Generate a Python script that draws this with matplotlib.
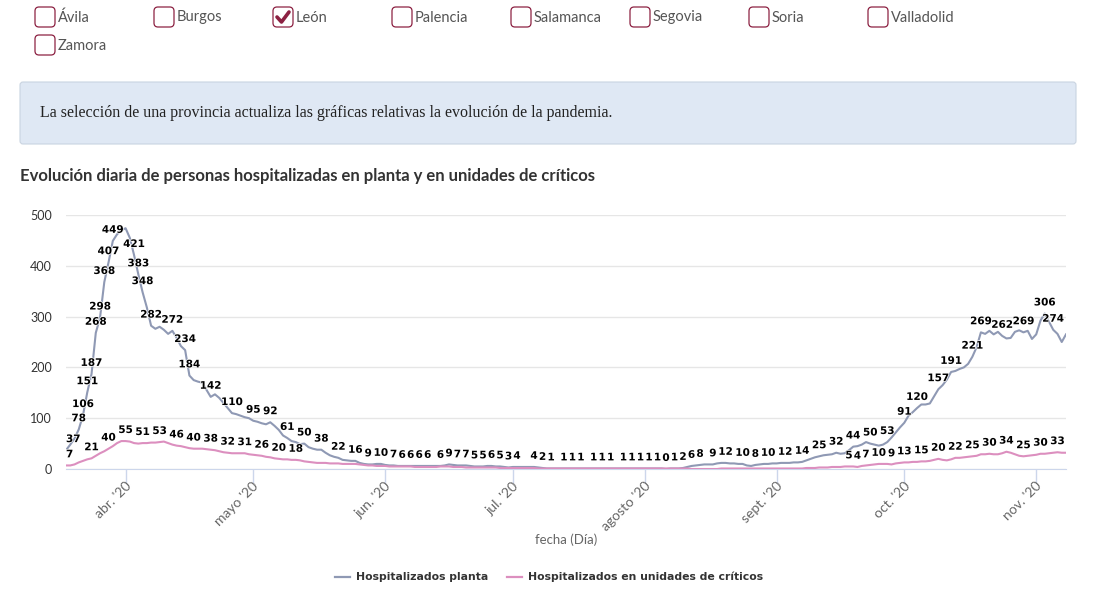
import datetime as dt
import matplotlib.pyplot as plt
import matplotlib.patheffects as pe
from matplotlib.patches import FancyBboxPatch
from matplotlib.transforms import ScaledTranslation

# daily series, León, from 18 March 2020
inicio = dt.date(2020, 3, 18)

planta = [
    37, 48, 60, 78, 106, 151, 187, 268, 298, 368,
    407, 449, 462, 470, 474, 455, 421, 383, 348, 318,
    282, 276, 280, 274, 266, 272, 258, 242, 234, 184,
    175, 172, 170, 156, 142, 147, 140, 130, 120, 110,
    108, 105, 102, 100, 95, 93, 90, 88, 92, 85,
    77, 66, 61, 55, 53, 49, 50, 43, 40, 38,
    38, 32, 27, 24, 22, 18, 17, 16, 16, 12,
    10, 9, 9, 10, 10, 8, 7, 7, 6, 6,
    6, 6, 6, 6, 6, 6, 6, 6, 6, 7,
    9, 8, 7, 7, 7, 6, 5, 5, 5, 6,
    6, 5, 5, 4, 3, 4, 4, 4, 4, 4,
    4, 3, 2, 1, 1, 1, 1, 1, 1, 1,
    1, 1, 1, 1, 1, 1, 1, 1, 1, 1,
    1, 1, 1, 1, 1, 1, 1, 1, 1, 1,
    1, 0, 1, 1, 1, 2, 4, 6, 7, 8,
    9, 9, 9, 11, 12, 12, 11, 11, 10, 10,
    7, 6, 8, 9, 10, 10, 11, 11, 12, 12,
    12, 13, 13, 14, 17, 20, 23, 25, 27, 28,
    29, 32, 30, 31, 37, 44, 45, 48, 53, 50,
    48, 46, 48, 53, 62, 72, 82, 91, 105, 112,
    120, 127, 127, 129, 143, 157, 165, 176, 191, 193,
    197, 200, 207, 221, 240, 269, 266, 272, 265, 270,
    262, 257, 258, 270, 273, 269, 272, 256, 265, 292,
    306, 290, 274, 266, 250, 265,
]

criticos = [
    7, 7, 9, 13, 16, 19, 21, 26, 31, 35,
    40, 45, 51, 55, 55, 54, 51, 50, 51, 51,
    52, 52, 53, 54, 51, 48, 46, 45, 43, 41,
    40, 40, 40, 39, 38, 37, 35, 33, 32, 31,
    31, 31, 31, 29, 28, 27, 26, 24, 23, 21,
    20, 19, 19, 18, 18, 17, 15, 14, 13, 12,
    12, 12, 11, 11, 11, 10, 10, 10, 10, 9,
    8, 7, 7, 6, 6, 6, 5, 5, 5, 5,
    5, 5, 4, 4, 4, 4, 4, 4, 5, 5,
    5, 4, 4, 4, 3, 3, 3, 3, 3, 3,
    3, 3, 2, 2, 2, 2, 2, 2, 2, 2,
    2, 1, 1, 1, 1, 1, 1, 1, 1, 1,
    1, 1, 1, 1, 1, 1, 1, 1, 1, 1,
    1, 1, 1, 1, 1, 1, 1, 1, 1, 1,
    1, 1, 1, 1, 1, 1, 1, 0, 0, 0,
    0, 0, 0, 0, 1, 1, 1, 1, 1, 1,
    1, 1, 1, 1, 1, 1, 1, 1, 1, 1,
    1, 1, 1, 1, 2, 2, 2, 3, 3, 3,
    4, 4, 4, 5, 5, 5, 4, 6, 7, 8,
    9, 10, 10, 10, 9, 11, 12, 13, 13, 14,
    14, 15, 15, 16, 18, 20, 18, 17, 19, 22,
    22, 23, 24, 25, 26, 29, 29, 30, 29, 29,
    31, 34, 32, 29, 26, 25, 26, 27, 28, 30,
    30, 31, 32, 33, 32, 32,
]

# days whose data label is visible in the original chart
planta_etiquetas = [
    0, 3, 4, 5, 6, 7, 8, 9, 10, 11, 16, 17, 18, 20, 25, 28, 29, 34, 39,
    44, 48, 52, 56, 60, 64, 68, 71, 74, 77, 79, 81, 83, 85, 88, 90, 92,
    94, 96, 98, 100, 102, 104, 106, 110, 112, 114, 117, 119, 121, 124,
    126, 128, 131, 133, 135, 137, 139, 141, 143, 145, 147, 149, 152, 155,
    159, 162, 165, 169, 173, 177, 181, 185, 189, 193, 197, 200, 205, 208,
    213, 215, 220, 225, 230, 232,
]
criticos_etiquetas = [
    0, 6, 10, 14, 18, 22, 26, 30, 34, 38, 42, 46, 50, 54,
    184, 186, 188, 191, 194, 197, 201, 205, 209, 213, 217, 221, 225, 229, 233,
]

provincias = ["Ávila", "Burgos", "León", "Palencia", "Salamanca", "Segovia",
              "Soria", "Valladolid", "Zamora"]
seleccionada = "León"
meses = ["abr. '20", "mayo '20", "jun. '20", "jul. '20", "agosto '20",
         "sept. '20", "oct. '20", "nov. '20"]

fechas = [inicio + dt.timedelta(days=i) for i in range(len(planta))]

C_PLANTA = "#8f99b4"
C_CRIT = "#dc8fbf"
GRANATE = "#8c2142"
W, H = 1098, 591

fig = plt.figure(figsize=(W / 100, H / 100), dpi=100)
fig.patch.set_facecolor("white")

# page decoration in pixel coordinates
ui = fig.add_axes([0, 0, 1, 1])
ui.set_xlim(0, W)
ui.set_ylim(H, 0)
ui.axis("off")

for k, nombre in enumerate(provincias):
    fila, col = divmod(k, 8)
    bx = 35 + col * 119
    by = 7 + fila * 28
    ui.add_patch(FancyBboxPatch((bx, by), 20, 20,
                                boxstyle="round,pad=0,rounding_size=4",
                                fc="white", ec=GRANATE, lw=0.9))
    if nombre == seleccionada:
        ui.plot([bx + 4, bx + 8.5, bx + 16], [by + 10, by + 15, by + 5],
                color=GRANATE, lw=2.6, solid_capstyle="round")
    ui.text(bx + 23, by + 10.5, nombre, fontsize=10.5, family="Lato",
            color="#555555", va="center", ha="left")

ui.add_patch(FancyBboxPatch((20, 82), 1056, 62,
                            boxstyle="round,pad=0,rounding_size=3",
                            fc="#dfe8f4", ec="#c9d4e1", lw=0.8))
ui.text(40, 113, "La selección de una provincia actualiza las gráficas "
        "relativas la evolución de la pandemia.",
        fontsize=11.5, family="Liberation Serif", color="#222222",
        va="center", ha="left")

ui.text(20, 176, "Evolución diaria de personas hospitalizadas en planta y "
        "en unidades de críticos", fontsize=12, family="Lato",
        fontweight="bold", color="#333333", va="center", ha="left")

ui.text(566, 540, "fecha (Día)", family="Lato", fontsize=9.5,
        color="#666666", ha="center", va="center")

# legend
for x0, txt, c in ((335, "Hospitalizados planta", C_PLANTA),
                   (507, "Hospitalizados en unidades de críticos", C_CRIT)):
    ui.plot([x0, x0 + 15], [577, 577], color=c, lw=1.6)
    ui.text(x0 + 21, 577, txt, fontsize=7.8, fontweight="bold",
            family="DejaVu Sans", color="#333333", va="center", ha="left")

# chart
ax = fig.add_axes([66 / W, 1 - 469 / H, 1000 / W, (469 - 215) / H])
ax.patch.set_alpha(0)
ax.plot(fechas, planta, color=C_PLANTA, lw=1.5, zorder=3)
ax.plot(fechas, criticos, color=C_CRIT, lw=1.5, zorder=3)

halo = [pe.withStroke(linewidth=1.0, foreground="white")]
for serie, dias in ((planta, planta_etiquetas), (criticos, criticos_etiquetas)):
    for i in dias:
        ax.annotate(str(serie[i]), (fechas[i], serie[i]),
                    xytext=(0, 8), textcoords="offset points",
                    ha="left" if i == 0 else "center", va="center",
                    fontsize=7.5, fontweight="bold", family="DejaVu Sans",
                    color="black", path_effects=halo, zorder=5,
                    annotation_clip=False)

ax.set_xlim(fechas[0], fechas[-1])
ax.set_ylim(0, 500)
ax.set_yticks(range(0, 501, 100))
ax.grid(axis="y", color="#e6e6e6", lw=1)
ax.set_axisbelow(True)
for s in ("top", "right", "left"):
    ax.spines[s].set_visible(False)
ax.spines["bottom"].set_color("#ccd6eb")
ax.tick_params(axis="y", length=0, pad=10, labelsize=9, labelcolor="#333333")
for lab in ax.get_yticklabels():
    lab.set_family("Lato")

ax.set_xticks([dt.date(2020, m, 1) for m in range(4, 12)])
ax.set_xticklabels(meses)
ax.tick_params(axis="x", length=10, width=1, color="#ccd6eb", pad=1,
               labelsize=10, labelcolor="#666666")
shift = ScaledTranslation(2.5 / 72, 0, fig.dpi_scale_trans)
for lab in ax.get_xticklabels():
    lab.set_family("Lato")
    lab.set_rotation(45)
    lab.set_ha("right")
    lab.set_va("center")
    lab.set_rotation_mode("anchor")
    lab.set_transform(lab.get_transform() + shift)

fig.savefig("out.png", dpi=100)
